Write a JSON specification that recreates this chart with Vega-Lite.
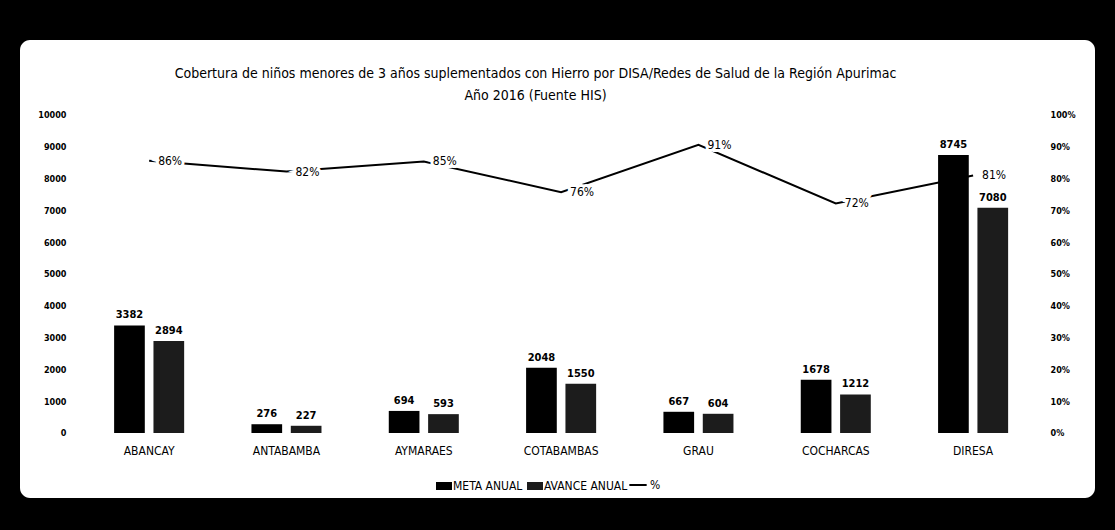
{
  "$schema": "https://vega.github.io/schema/vega-lite/v6.json",
  "width": 1075,
  "height": 458,
  "autosize": {"type": "none"},
  "padding": {"left": 20, "top": 40, "right": 20, "bottom": 32},
  "background": "#000000",
  "config": {
    "view": {"fill": "#ffffff", "stroke": null, "cornerRadius": 10},
    "font": "Liberation Sans Narrow, DejaVu Sans Condensed, sans-serif",
    "axis": {"grid": false, "domain": false, "ticks": false, "labelColor": "#000000", "title": null, "labelFont": "Liberation Sans Narrow, DejaVu Sans Condensed, sans-serif"},
    "legend": {"labelFont": "Liberation Sans Narrow, DejaVu Sans Condensed, sans-serif"}
  },
  "title": {
    "text": ["Cobertura de niños menores de 3 años suplementados con Hierro  por DISA/Redes de Salud de la Región Apurimac", "Año 2016  (Fuente HIS)"],
    "fontSize": 14,
    "fontWeight": "normal",
    "font": "Liberation Sans Narrow, DejaVu Sans Condensed, sans-serif",
    "color": "#000000",
    "anchor": "middle",
    "frame": "group",
    "orient": "top",
    "baseline": "top",
    "offset": -63,
    "lineHeight": 22,
    "dx": -22
  },
  "datasets": {
    "barras": [
      {"red": "ABANCAY", "serie": "META ANUAL", "valor": 3382},
      {"red": "ABANCAY", "serie": "AVANCE ANUAL", "valor": 2894},
      {"red": "ANTABAMBA", "serie": "META ANUAL", "valor": 276},
      {"red": "ANTABAMBA", "serie": "AVANCE ANUAL", "valor": 227},
      {"red": "AYMARAES", "serie": "META ANUAL", "valor": 694},
      {"red": "AYMARAES", "serie": "AVANCE ANUAL", "valor": 593},
      {"red": "COTABAMBAS", "serie": "META ANUAL", "valor": 2048},
      {"red": "COTABAMBAS", "serie": "AVANCE ANUAL", "valor": 1550},
      {"red": "GRAU", "serie": "META ANUAL", "valor": 667},
      {"red": "GRAU", "serie": "AVANCE ANUAL", "valor": 604},
      {"red": "COCHARCAS", "serie": "META ANUAL", "valor": 1678},
      {"red": "COCHARCAS", "serie": "AVANCE ANUAL", "valor": 1212},
      {"red": "DIRESA", "serie": "META ANUAL", "valor": 8745},
      {"red": "DIRESA", "serie": "AVANCE ANUAL", "valor": 7080}
    ],
    "cobertura": [
      {"red": "ABANCAY", "pct": 0.856},
      {"red": "ANTABAMBA", "pct": 0.822},
      {"red": "AYMARAES", "pct": 0.854},
      {"red": "COTABAMBAS", "pct": 0.757},
      {"red": "GRAU", "pct": 0.906},
      {"red": "COCHARCAS", "pct": 0.722},
      {"red": "DIRESA", "pct": 0.81}
    ]
  },
  "layer": [
    {
      "data": {"name": "barras"},
      "encoding": {
        "x": {
          "field": "red", "type": "nominal",
          "scale": {"domain": ["ABANCAY", "ANTABAMBA", "AYMARAES", "COTABAMBAS", "GRAU", "COCHARCAS", "DIRESA"], "paddingInner": 0.49, "paddingOuter": 0.659, "align": 0.52},
          "axis": {"orient": "bottom", "offset": -65, "labelPadding": 12, "labelFontSize": 12, "labelAngle": 0, "title": null}
        },
        "xOffset": {"field": "serie", "type": "nominal", "scale": {"domain": ["META ANUAL", "AVANCE ANUAL"], "paddingInner": 0.22, "paddingOuter": 0}},
        "y": {
          "field": "valor", "type": "quantitative",
          "scale": {"domain": [-2044, 12358], "nice": false, "zero": false},
          "axis": {"orient": "left", "offset": -48, "values": [0, 1000, 2000, 3000, 4000, 5000, 6000, 7000, 8000, 9000, 10000], "format": "d", "labelPadding": 2, "labelFontSize": 9, "labelFontWeight": "bold"}
        }
      },
      "layer": [
        {
          "mark": {"type": "bar"},
          "encoding": {
            "y2": {"datum": 0},
            "fill": {
              "field": "serie", "type": "nominal",
              "scale": {"domain": ["META ANUAL", "AVANCE ANUAL"], "range": ["#000000", "#1c1c1c"]},
              "legend": {"orient": "none", "legendX": 416, "legendY": 438, "direction": "horizontal", "title": null, "symbolType": "M-1,-0.5H1V0.5H-1Z", "symbolSize": 256, "symbolStrokeWidth": 0, "labelFontSize": 12, "labelColor": "#000000", "columnPadding": 4, "labelOffset": 1}
            }
          }
        },
        {
          "mark": {"type": "text", "baseline": "bottom", "dy": -5, "fontSize": 11, "fontWeight": "bold", "color": "#000000"},
          "encoding": {"text": {"field": "valor", "type": "quantitative", "format": "d"}}
        }
      ]
    },
    {
      "data": {"name": "cobertura"},
      "encoding": {
        "x": {
          "field": "red", "type": "nominal",
          "scale": {"domain": ["ABANCAY", "ANTABAMBA", "AYMARAES", "COTABAMBAS", "GRAU", "COCHARCAS", "DIRESA"], "paddingInner": 0.49, "paddingOuter": 0.659, "align": 0.52}
        },
        "y": {
          "field": "pct", "type": "quantitative",
          "scale": {"domain": [-0.2044, 1.2358], "nice": false, "zero": false},
          "axis": {"orient": "right", "offset": -47, "values": [0, 0.1, 0.2, 0.3, 0.4, 0.5, 0.6, 0.7, 0.8, 0.9, 1], "format": ".0%", "labelAlign": "left", "labelPadding": 2, "labelFontSize": 9, "labelFontWeight": "bold"}
        }
      },
      "layer": [
        {
          "mark": {"type": "line", "strokeWidth": 2},
          "encoding": {
            "stroke": {
              "datum": "%", "type": "nominal",
              "scale": {"domain": ["%"], "range": ["#000000"]},
              "legend": {"orient": "none", "legendX": 608, "legendY": 435, "direction": "horizontal", "title": null, "symbolType": "stroke", "symbolSize": 300, "symbolStrokeWidth": 2, "labelFontSize": 12, "labelColor": "#000000", "labelOffset": 2}
            }
          }
        },
        {
          "mark": {"type": "text", "align": "left", "dx": 9, "baseline": "middle", "fontSize": 12, "fill": "#ffffff", "stroke": "#ffffff", "strokeWidth": 6},
          "encoding": {"text": {"field": "pct", "type": "quantitative", "format": ".0%"}}
        },
        {
          "mark": {"type": "text", "align": "left", "dx": 9, "baseline": "middle", "fontSize": 12, "fill": "#000000"},
          "encoding": {"text": {"field": "pct", "type": "quantitative", "format": ".0%"}}
        }
      ]
    }
  ],
  "resolve": {"scale": {"y": "independent"}, "axis": {"y": "independent"}}
}
